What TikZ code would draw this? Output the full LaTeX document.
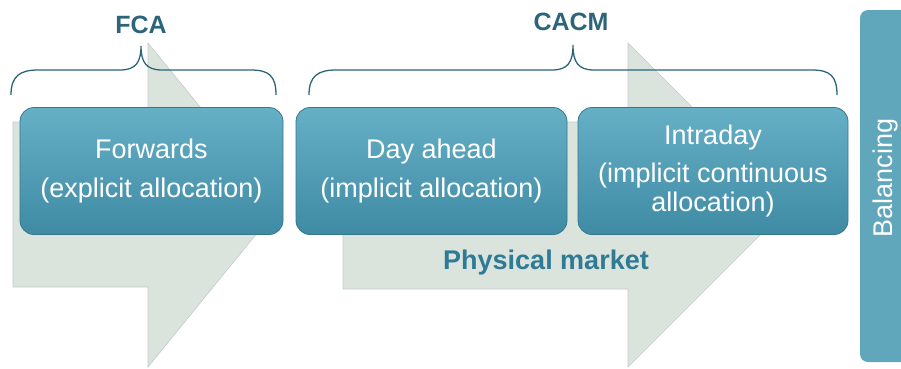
\documentclass[tikz,border=0pt]{standalone}
\usepackage{fontspec}
\setmainfont{Liberation Sans}

\definecolor{boxtop}{HTML}{66B0C6}
\definecolor{boxbot}{HTML}{3F8BA4}
\definecolor{boxedge}{HTML}{37778D}
\definecolor{chevron}{HTML}{DAE3DC}
\definecolor{chevedge}{HTML}{C3CCC6}
\definecolor{headteal}{HTML}{2C6579}
\definecolor{marketteal}{HTML}{2F7B96}
\definecolor{balfill}{HTML}{60A7BB}

\tikzset{
  marketbox/.style={rectangle, rounded corners=14pt, top color=boxtop, bottom color=boxbot,
    draw=boxedge, line width=0.8pt, minimum height=127pt, text=white, align=center,
    inner sep=0pt, font=\fontsize{27}{29}\selectfont},
  heading/.style={text=headteal, font=\fontsize{25}{27}\selectfont\bfseries},
  curly/.style={draw=headteal, line width=1.3pt}
}

\begin{document}
\begin{tikzpicture}[x=1pt, y=-1pt]
        \useasboundingbox (0, 0) rectangle (901, 368);
        % grey chevrons behind the boxes
        \fill[chevron, draw=chevedge, line width=0.6pt] (13, 122) -- (148, 122) -- (148, 43) -- (280, 205) -- (148, 367) -- (148, 287) -- (13, 287) -- cycle;
        \fill[chevron, draw=chevedge, line width=0.6pt] (343, 122) -- (628, 122) -- (628, 43) -- (790, 205) -- (628, 367) -- (628, 289) -- (343, 289) -- cycle;
        % braces
        \draw[curly] (11, 95) .. controls (11, 76) and (20, 70) .. (38, 70) -- (120, 70) .. controls (136, 70) and (141, 62) .. (141, 46) .. controls (141, 62) and (146, 70) .. (162, 70) -- (251, 70) .. controls (269, 70) and (276, 76) .. (276, 95);
        \draw[curly] (309, 95) .. controls (309, 76) and (318, 70) .. (336, 70) -- (552, 70) .. controls (568, 70) and (573, 62) .. (573, 45) .. controls (573, 62) and (578, 70) .. (594, 70) -- (812, 70) .. controls (830, 70) and (837, 76) .. (837, 95);
        \node[heading] (fca) at (141, 25) {FCA};
        \node[heading] (cacm) at (571, 22) {CACM};
        % market boxes
        \node[marketbox, minimum width=263pt] (fwd) at (151.5, 171) {Forwards\\[10pt](explicit allocation)};
        \node[marketbox, minimum width=271pt] (dayahead) at (431.5, 171) {Day ahead\\[10pt](implicit allocation)};
        \node[marketbox, minimum width=270pt] (intraday) at (713, 171) {Intraday\\[9pt](implicit continuous\\allocation)};
        \node[text=marketteal, font=\fontsize{27}{29}\selectfont\bfseries] (physical) at (546, 263) {Physical market};
        % balancing column
        \fill[balfill, rounded corners=8pt] (860, 10) rectangle (920, 362);
        \node[rotate=90, anchor=base, text=white, font=\fontsize{27}{29}\selectfont] (balancing) at (892, 178) {Balancing};
\end{tikzpicture}
\end{document}
